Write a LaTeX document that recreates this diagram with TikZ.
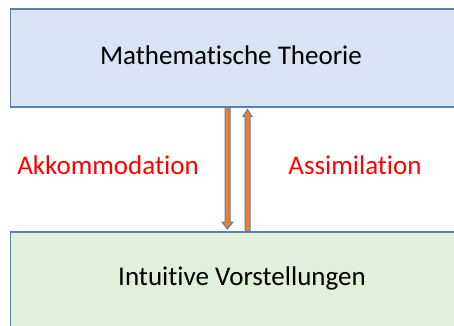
\documentclass[tikz,border=0pt]{standalone}
\usepackage{fontspec}
\setmainfont[Ligatures=CommonOff]{Carlito}
\usetikzlibrary{calc}
\definecolor{boxline}{HTML}{5B7FAE}
\definecolor{topfill}{HTML}{DAE3F3}
\definecolor{botfill}{HTML}{E2EFDA}
\definecolor{arrfill}{HTML}{ED7D31}
\definecolor{arrline}{HTML}{5580B0}
\tikzset{
  panel/.style={draw=boxline, line width=1.5pt, anchor=north west, inner sep=0pt},
  maintext/.style={font=\fontsize{27}{32}\selectfont, text=black},
  labeltext/.style={font=\fontsize{27}{32}\selectfont, text=red},
  blockarrow/.style={draw=arrline, fill=arrfill, line width=1pt, line join=miter},
}
\begin{document}
\begin{tikzpicture}[x=1pt,y=-1pt]
\useasboundingbox (0,0) rectangle (454,325);
\fill[white] (0,0) rectangle (454,325);
\node[panel, fill=topfill, minimum width=480pt, minimum height=98pt] (top) at (9.5,8) {};
\node[panel, fill=botfill, minimum width=480pt, minimum height=100pt] (bot) at (9.5,231) {};
\node[maintext] (toptext) at (231,55) {Mathematische Theorie};
\node[maintext] (bottext) at (242,278) {Intuitive Vorstellungen};
\node[labeltext] (akk) at (108,165) {Akkommodation};
\node[labeltext] (ass) at (355,165) {Assimilation};
% down arrow
\coordinate (dn) at (227.5,0);
\draw[blockarrow] ($(top.south -| dn)+(-2.5,0)$) -- ($(bot.north -| dn)+(-2.5,-9)$) -- ($(bot.north -| dn)+(-5.5,-9)$) -- ($(bot.north -| dn)+(0,-2)$) -- ($(bot.north -| dn)+(5.5,-9)$) -- ($(bot.north -| dn)+(2.5,-9)$) -- ($(top.south -| dn)+(2.5,0)$) -- cycle;
% up arrow
\coordinate (up) at (247.5,0);
\draw[blockarrow] ($(bot.north -| up)+(-2.5,0)$) -- ($(top.south -| up)+(-2.5,9)$) -- ($(top.south -| up)+(-4.5,9)$) -- ($(top.south -| up)+(0,2)$) -- ($(top.south -| up)+(4.5,9)$) -- ($(top.south -| up)+(2.5,9)$) -- ($(bot.north -| up)+(2.5,0)$) -- cycle;
\end{tikzpicture}
\end{document}
